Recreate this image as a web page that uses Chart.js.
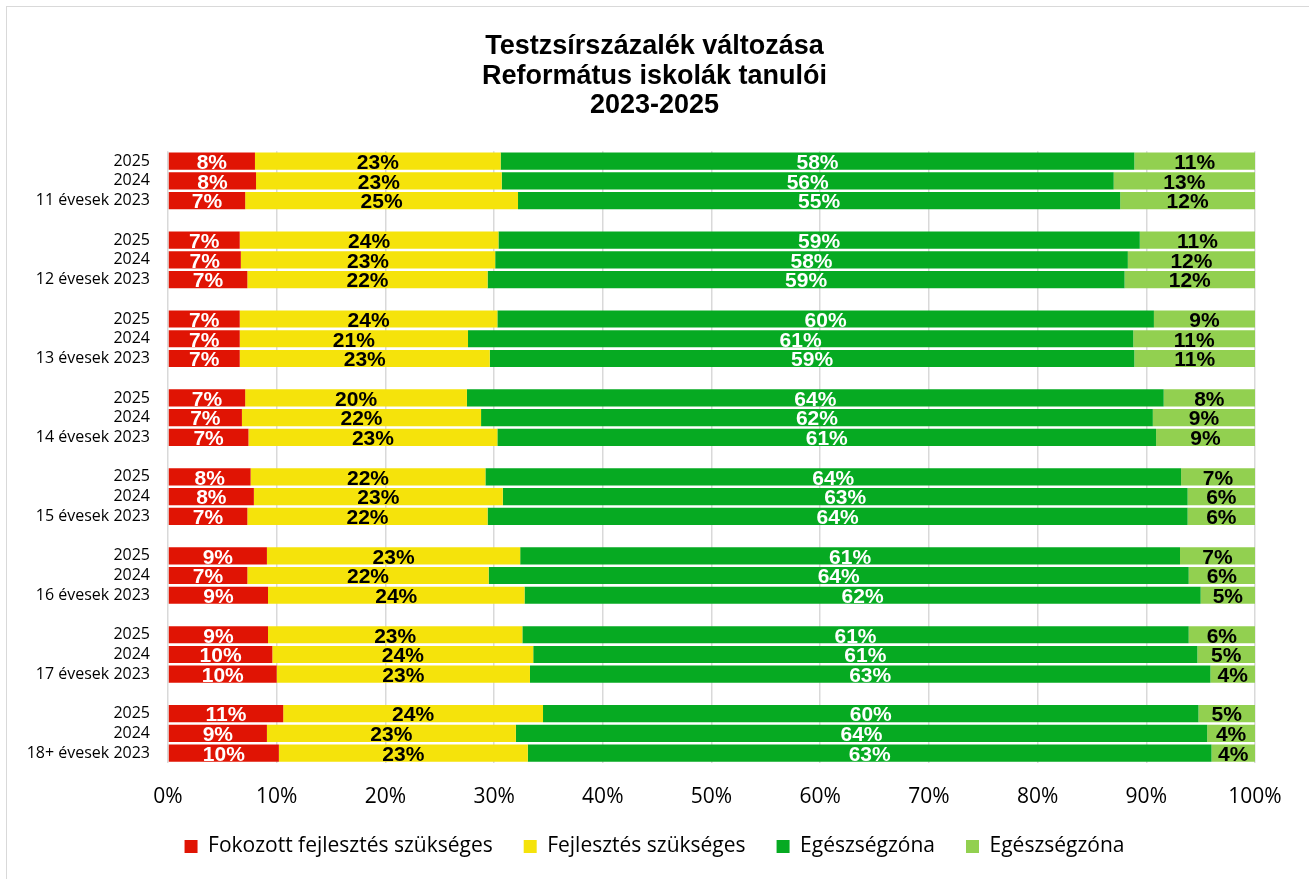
<!DOCTYPE html>
<html>
<head>
<meta charset="utf-8">
<script src="https://cdn.jsdelivr.net/npm/chart.js@4.4.1/dist/chart.umd.min.js"></script>
<style>
body { margin: 0; background: #fff; }
#wrap { position: relative; width: 1309px; height: 879px; overflow: hidden; }
#frame { position: absolute; left: 6px; top: 6px; width: 1320px; height: 890px; border: 1px solid #d9d9d9; }
#holder { position: absolute; left: 0; top: 0; width: 1309px; height: 879px; }
</style>
</head>
<body>
<div id="wrap">
<div id="frame"></div>
<div id="holder"><canvas id="myFitnessChart"></canvas></div>
</div>
<script>
var categories = ["2025", "2024", "11 évesek 2023", "",
    "2025", "2024", "12 évesek 2023", "",
    "2025", "2024", "13 évesek 2023", "",
    "2025", "2024", "14 évesek 2023", "",
    "2025", "2024", "15 évesek 2023", "",
    "2025", "2024", "16 évesek 2023", "",
    "2025", "2024", "17 évesek 2023", "",
    "2025", "2024", "18+ évesek 2023"];

var seriesNames = ["Fokozott fejlesztés szükséges", "Fejlesztés szükséges", "Egészségzóna", "Egészségzóna"];

// percentages per row, top to bottom (null = empty spacer row)
var fokozott = [8.0, 8.1, 7.1, null,
    6.6, 6.7, 7.3, null,
    6.6, 6.6, 6.6, null,
    7.1, 6.8, 7.4, null,
    7.6, 7.9, 7.3, null,
    9.1, 7.3, 9.2, null,
    9.2, 9.6, 10.0, null,
    10.6, 9.1, 10.2];

var fejlesztes = [22.6, 22.6, 25.1, null,
    23.8, 23.4, 22.1, null,
    23.7, 21.0, 23.0, null,
    20.4, 22.0, 22.9, null,
    21.6, 22.9, 22.1, null,
    23.3, 22.2, 23.6, null,
    23.4, 24.0, 23.3, null,
    23.9, 22.9, 22.9];

var egeszseg = [58.3, 56.3, 55.4, null,
    59.0, 58.2, 58.6, null,
    60.4, 61.2, 59.3, null,
    64.1, 61.8, 60.6, null,
    64.0, 63.0, 64.4, null,
    60.7, 64.4, 62.2, null,
    61.3, 61.1, 62.6, null,
    60.3, 63.6, 62.9];

var egeszseg2 = [11.1, 13.0, 12.4, null,
    10.6, 11.7, 12.0, null,
    9.3, 11.2, 11.1, null,
    8.4, 9.4, 9.1, null,
    6.8, 6.2, 6.2, null,
    6.9, 6.1, 5.0, null,
    6.1, 5.3, 4.1, null,
    5.2, 4.4, 4.0];

var xTicks = [0, 10, 20, 30, 40, 50, 60, 70, 80, 90, 100];

var barColors = ["#E01404", "#F5E30B", "#06AA22", "#92D050"];
var labelColors = ["#ffffff", "#000000", "#ffffff", "#000000"];

var allSeries = [fokozott, fejlesztes, egeszseg, egeszseg2];
var datasets = [];
for (var i = 0; i < allSeries.length; i++) {
    datasets.push({
        label: seriesNames[i],
        data: allSeries[i],
        backgroundColor: barColors[i],
        borderWidth: 0,
        barPercentage: 0.87,
        categoryPercentage: 1.0
    });
}

// draws the rounded percentage in the middle of every bar
var barLabels = {
    id: "barLabels",
    afterDatasetsDraw: function (chart) {
        var ctx = chart.ctx;
        ctx.save();
        ctx.font = "bold 21px 'Liberation Sans', Arial, sans-serif";
        ctx.textAlign = "center";
        ctx.textBaseline = "middle";
        chart.data.datasets.forEach(function (ds, di) {
            var meta = chart.getDatasetMeta(di);
            meta.data.forEach(function (bar, j) {
                var v = ds.data[j];
                if (v === null || v === undefined) return;
                var p = bar.getCenterPoint();
                ctx.fillStyle = labelColors[di];
                ctx.fillText(Math.round(v) + "%", p.x, p.y + 2);
            });
        });
        ctx.restore();
    }
};

new Chart("myFitnessChart", {
    type: "bar",
    data: {
        labels: categories,
        datasets: datasets
    },
    plugins: [barLabels],
    options: {
        indexAxis: "y",
        responsive: true,
        maintainAspectRatio: false,
        animation: false,
        layout: {
            padding: { left: 0, right: 0, top: 0, bottom: 12 }
        },
        scales: {
            x: {
                stacked: true,
                min: 0,
                max: 100,
                afterBuildTicks: function (axis) {
                    axis.ticks = xTicks.map(function (t) { return { value: t }; });
                },
                afterFit: function (axis) { axis.height = 42; },
                ticks: {
                    padding: 21,
                    color: "#000",
                    font: { family: "'Open Sans', sans-serif", size: 21 },
                    callback: function (v) { return v + "%"; }
                },
                grid: { color: "#d9d9d9", lineWidth: 1.5, drawTicks: false },
                border: { display: false }
            },
            y: {
                stacked: true,
                afterFit: function (axis) { axis.width = 168; },
                ticks: {
                    autoSkip: false,
                    padding: 18,
                    color: "#000",
                    font: { family: "'Open Sans', sans-serif", size: 16 }
                },
                grid: { display: false, drawTicks: false },
                border: { display: false }
            },
            // empty axis on the right, only keeps the white margin there
            yRight: {
                type: "category",
                labels: categories,
                position: "right",
                afterFit: function (axis) { axis.width = 54; },
                ticks: { display: false },
                grid: { display: false, drawTicks: false },
                border: { display: false }
            }
        },
        plugins: {
            title: {
                display: true,
                text: ["Testzsírszázalék változása", "Református iskolák tanulói", "2023-2025"],
                color: "#000",
                font: { family: "'Liberation Sans', Arial, sans-serif", size: 27, weight: "bold", lineHeight: 1.09 },
                padding: { top: 32, bottom: 31 }
            },
            legend: {
                position: "bottom",
                labels: {
                    color: "#000",
                    boxWidth: 13,
                    boxHeight: 13,
                    padding: 31,
                    font: { family: "'Open Sans', sans-serif", size: 21 }
                }
            },
            tooltip: { enabled: false }
        }
    }
});
</script>
</body>
</html>
